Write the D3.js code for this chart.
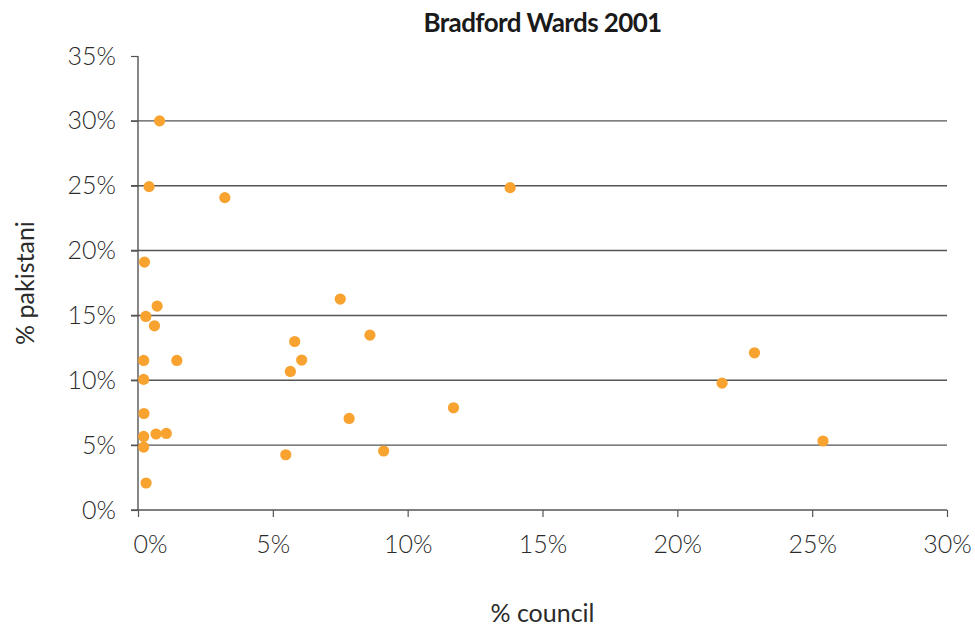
<!DOCTYPE html>
<html>
<head>
<meta charset="utf-8">
<script src="https://cdn.jsdelivr.net/npm/d3@7"></script>
<style>
  body { margin: 0; background: #fff; }
  svg text { font-family: Lato, "Open Sans", sans-serif; fill: #2b2b2b; }
</style>
</head>
<body>
<svg id="chart" width="975" height="627"></svg>
<script>
// % council (x) and % pakistani (y) per ward
var councilPct = [0.8, 0.41, 3.22, 13.8, 0.24, 0.71, 0.29, 0.61, 7.5, 5.81,
  8.6, 6.07, 5.65, 0.21, 1.44, 0.21, 0.22, 0.21, 0.21, 0.67,
  1.05, 0.3, 7.83, 5.48, 9.11, 11.7, 21.66, 22.86, 25.4];
var pakistaniPct = [30.0, 24.93, 24.08, 24.85, 19.11, 15.72, 14.92, 14.2, 16.26, 12.99,
  13.48, 11.56, 10.68, 11.53, 11.53, 10.07, 7.44, 5.67, 4.85, 5.86,
  5.9, 2.08, 7.06, 4.26, 4.55, 7.88, 9.78, 12.12, 5.32];
var xTicks = [0, 5, 10, 15, 20, 25, 30];
var yTicks = [0, 5, 10, 15, 20, 25, 30, 35];

var margin = {top: 56, right: 28, bottom: 117, left: 138};
var svg = d3.select("#chart");
var width = 975 - margin.left - margin.right,
    height = 627 - margin.top - margin.bottom;
var g = svg.append("g").attr("transform", "translate(" + margin.left + "," + margin.top + ")");

var x = d3.scaleLinear().domain([0, 30]).range([0, width]);
var y = d3.scaleLinear().domain([0, 35]).range([height, 0]);

// horizontal gridlines (no line at the top tick)
g.selectAll(".grid").data(yTicks.filter(function (d) { return d > 0 && d < 35; }))
  .enter().append("line")
  .attr("class", "grid")
  .attr("x1", -7).attr("x2", width)
  .attr("y1", function (d) { return y(d); })
  .attr("y2", function (d) { return y(d); })
  .style("stroke", "#555")
  .style("stroke-width", 1.4);

var yAxis = g.append("g")
  .call(d3.axisLeft(y).tickValues(yTicks).tickSize(7).tickPadding(15)
    .tickFormat(function (d) { return d + "%"; }));
var xAxis = g.append("g")
  .attr("transform", "translate(0," + height + ")")
  .call(d3.axisBottom(x).tickValues(xTicks).tickSize(7).tickPadding(18)
    .tickFormat(function (d) { return d + "%"; }));

[yAxis, xAxis].forEach(function (a) {
  a.select(".domain").remove();
  a.selectAll("line").style("stroke", "#555").style("stroke-width", 1.2);
  a.selectAll("text").style("font-size", "25px").style("font-weight", 300).style("fill", "#2b2b2b");
});
// axis lines, x one reaches out to the left like the ticks
g.append("line").attr("x1", 0).attr("x2", 0).attr("y1", 0).attr("y2", height)
  .style("stroke", "#555").style("stroke-width", 1.4);
g.append("line").attr("x1", -7).attr("x2", width).attr("y1", height).attr("y2", height)
  .style("stroke", "#555").style("stroke-width", 1.4);
// first x label sits a little right of its tick
xAxis.select(".tick text").attr("dx", 12);

g.selectAll(".dot").data(councilPct)
  .enter().append("circle")
  .attr("class", "dot")
  .attr("cx", function (d) { return x(d); })
  .attr("cy", function (d, i) { return y(pakistaniPct[i]); })
  .attr("r", 5.6)
  .style("fill", "#f8a230");

svg.append("text")
  .attr("x", margin.left + width / 2).attr("y", 32)
  .attr("text-anchor", "middle")
  .style("font-size", "26px").style("font-weight", 700).style("letter-spacing", "-0.6px")
  .style("fill", "#1a1a1a")
  .text("Bradford Wards 2001");

svg.append("text")
  .attr("x", margin.left + width / 2).attr("y", 622)
  .attr("text-anchor", "middle")
  .style("font-size", "25px").style("font-weight", 400)
  .text("% council");

svg.append("text")
  .attr("transform", "translate(34," + (margin.top + height / 2) + ") rotate(-90)")
  .attr("text-anchor", "middle")
  .style("font-size", "25px").style("font-weight", 400)
  .text("% pakistani");
</script>
</body>
</html>
